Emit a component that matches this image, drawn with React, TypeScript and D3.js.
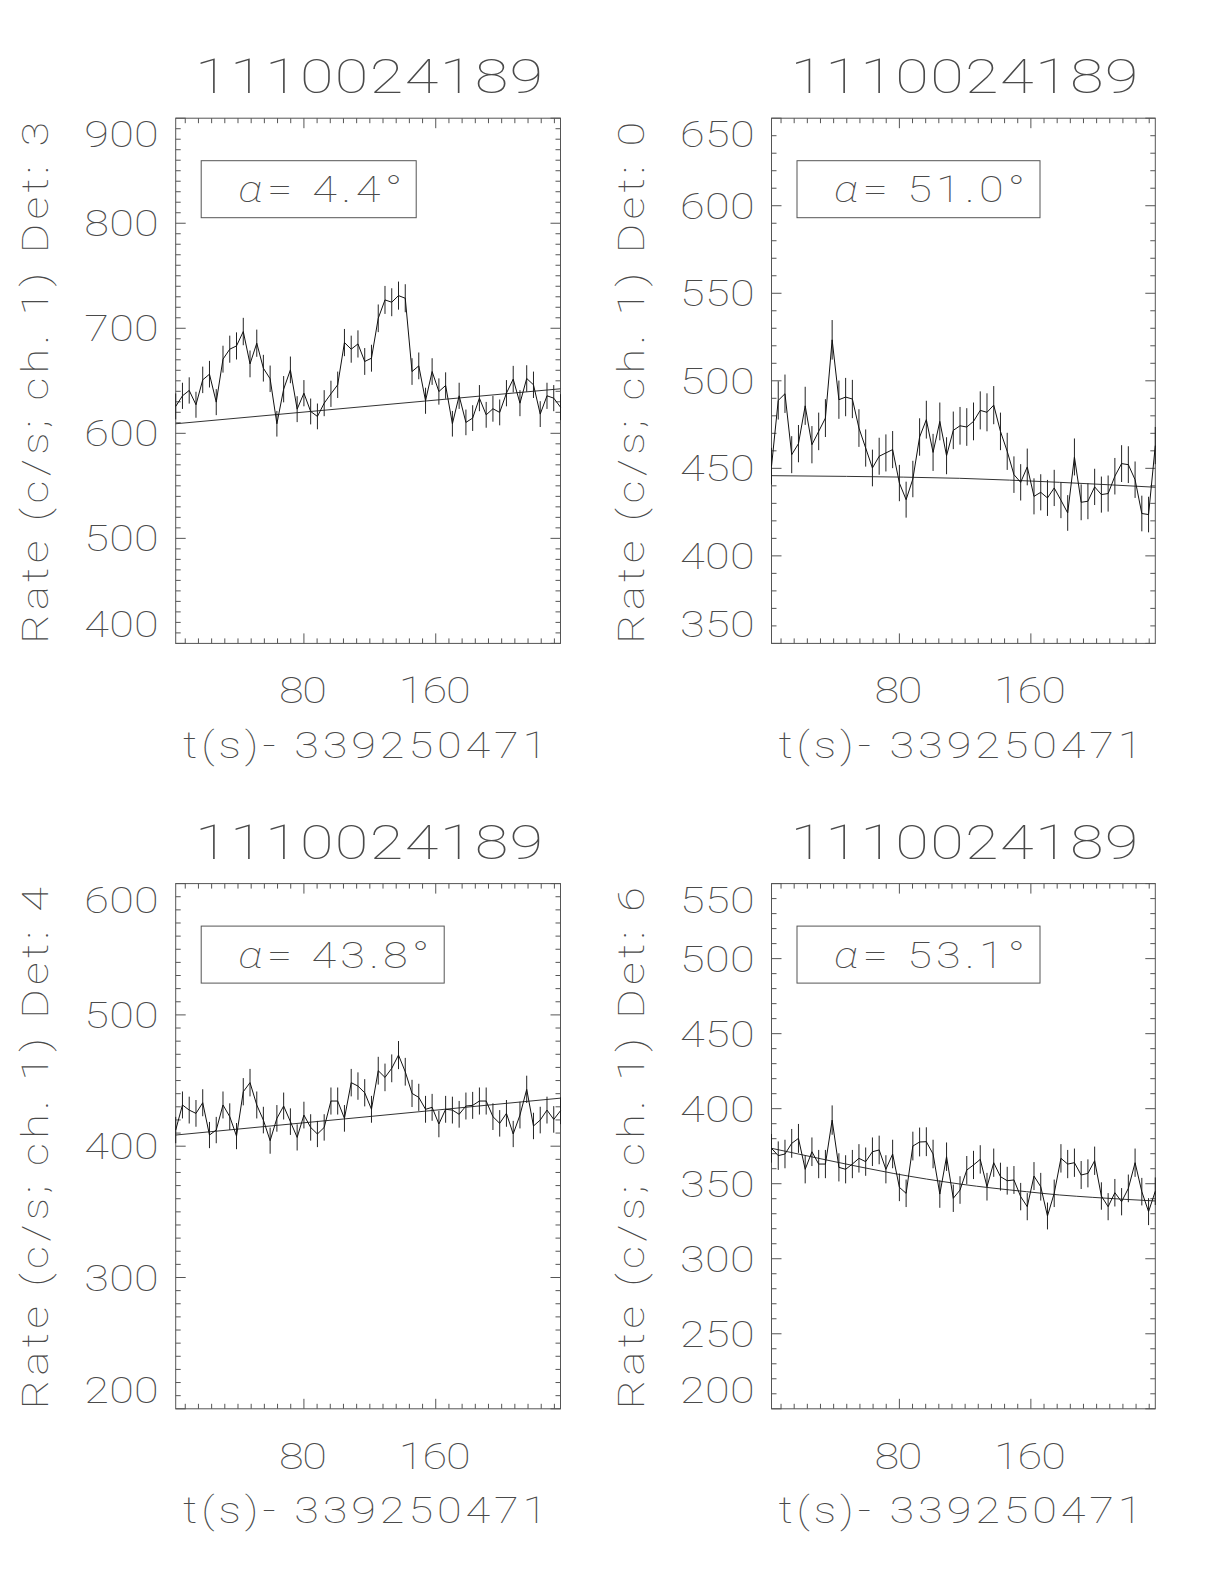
import React from 'react';
import * as d3 from 'd3';

// ---------------- data ----------------
const OBS_ID = '1110024189';
const T_REF = '339250471';
const BIN_WIDTH = 4.096; // s, used for Poisson error bars

const TIMES = [
  2.2, 6.3, 10.4, 14.5, 18.6, 22.7, 26.8, 30.9, 35.0, 39.1,
  43.2, 47.3, 51.4, 55.4, 59.5, 63.6, 67.7, 71.8, 75.9, 80.0,
  84.1, 88.2, 92.3, 96.4, 100.5, 104.6, 108.7, 112.8, 116.9, 121.0,
  125.1, 129.2, 133.3, 137.4, 141.5, 145.6, 149.7, 153.8, 157.8, 161.9,
  166.0, 170.1, 174.2, 178.3, 182.4, 186.5, 190.6, 194.7, 198.8, 202.9,
  207.0, 211.1, 215.2, 219.3, 223.4, 227.5, 231.6, 235.7,
];

const RATE_DET3 = [
  625.6, 635.7, 640.8, 627.2, 650.9, 656.3, 629.7, 670.6, 680.1, 683.2,
  696.9, 666.1, 685.8, 662.0, 651.9, 609.1, 642.0, 660.4, 623.0, 638.2,
  620.8, 616.1, 628.7, 637.6, 646.2, 686.4, 680.1, 685.1, 668.4, 671.5,
  709.5, 727.0, 724.8, 731.1, 728.6, 658.8, 664.2, 631.0, 658.8, 639.8,
  645.5, 609.1, 635.7, 610.4, 614.5, 633.5, 617.6, 623.4, 619.9, 638.2,
  651.6, 628.7, 652.2, 646.2, 618.3, 635.7, 633.5, 624.9,
];
const RATE_DET0 = [
  451.2, 488.8, 492.6, 457.8, 464.1, 485.7, 463.5, 471.1, 478.7, 523.4,
  489.2, 490.7, 489.6, 473.0, 461.6, 450.2, 456.9, 458.8, 460.7, 441.6,
  432.1, 443.9, 467.9, 477.8, 459.1, 476.8, 457.2, 471.7, 474.3, 473.6,
  476.8, 483.1, 482.0, 486.1, 471.1, 459.7, 446.4, 442.0, 450.8, 434.0,
  436.3, 433.1, 438.8, 431.8, 424.5, 456.5, 430.6, 431.2, 439.4, 435.0,
  435.6, 445.5, 452.7, 452.1, 443.5, 424.2, 423.6, 463.0,
];
const RATE_DET4 = [
  412.3, 431.4, 427.5, 425.0, 433.1, 408.5, 412.3, 431.4, 422.5, 407.7,
  441.5, 448.4, 431.4, 419.9, 404.2, 421.2, 430.6, 418.7, 406.7, 423.7,
  414.3, 409.3, 414.3, 434.4, 434.4, 421.2, 448.4, 445.8, 440.7, 428.1,
  457.5, 452.4, 459.3, 469.4, 456.7, 440.2, 437.2, 428.1, 429.6, 416.9,
  428.1, 427.5, 424.3, 430.6, 431.1, 434.4, 434.4, 422.5, 417.4, 425.0,
  409.3, 423.7, 443.3, 415.4, 419.9, 427.5, 420.4, 427.0,
];
const RATE_DET6 = [
  373.6, 368.7, 369.8, 376.9, 380.2, 359.6, 371.3, 363.1, 363.1, 392.4,
  360.9, 359.6, 363.1, 366.9, 364.7, 371.3, 372.5, 359.6, 369.8, 347.6,
  343.6, 375.1, 377.8, 378.0, 369.8, 343.1, 368.0, 340.3, 345.8, 359.1,
  362.5, 366.2, 348.0, 364.0, 354.7, 352.0, 352.5, 341.4, 334.7, 355.1,
  348.0, 328.5, 343.6, 366.9, 363.1, 364.0, 355.8, 356.9, 365.3, 341.8,
  334.7, 344.0, 338.0, 346.9, 364.0, 344.7, 331.4, 345.0,
];

// background fits, sampled
const BG_T_DET3 = [2.2, 118.9, 235.7];
const BG_DET3 = [609.1, 625.8, 642.4];
const BG_T_DET0 = [2.2, 47.9, 116.7, 177.5, 235.7];
const BG_DET0 = [445.8, 445.4, 444.3, 442.0, 439.2];
const BG_T_DET4 = [2.2, 118.9, 235.7];
const BG_DET4 = [408.5, 422.5, 436.6];
const BG_T_DET6 = [2.2, 35.7, 76.2, 116.7, 157.2, 177.5, 197.7, 235.7];
const BG_DET6 = [373.6, 365.8, 356.9, 349.8, 344.7, 342.5, 340.9, 338.5];

const DETECTORS = [3, 0, 4, 6];
const ALPHAS = ['4.4', '51.0', '43.8', '53.1'];

const Y_DOMAIN_DET3 = [400, 900];
const Y_DOMAIN_DET0 = [350, 650];
const Y_DOMAIN_DET4 = [200, 600];
const Y_DOMAIN_DET6 = [200, 550];
const Y_TICKS_DET3 = [400, 500, 600, 700, 800, 900];
const Y_TICKS_DET0 = [350, 400, 450, 500, 550, 600, 650];
const Y_TICKS_DET4 = [200, 300, 400, 500, 600];
const Y_TICKS_DET6 = [200, 250, 300, 350, 400, 450, 500, 550];

const X_DOMAIN = [2.2, 235.7];
const X_TICKS = [80, 160];
const X_MINOR_STEP = 8;
const Y_MINOR_STEP = 10;

// ---------------- layout ----------------
const COL_X = [
  [175.7, 560.5],
  [771.5, 1155.3],
];
const ROW_Y = [
  [118.2, 643.4],
  [883.6, 1408.8],
];

const FONT = 'Roboto, "DejaVu Sans", sans-serif';
const FW = 100;
const TXT = '#4a4a4a';
const SMALL = 36;
const BIG = 49;
const SX = 1.25; // horizontal glyph stretch (Hershey-like wide glyphs)

type STextProps = {
  x: number;
  y: number;
  size: number;
  len: number;
  anchor?: 'start' | 'middle' | 'end';
  rotate?: number;
  children: React.ReactNode;
};

function SText({ x, y, size, len, anchor = 'start', rotate = 0, children }: STextProps) {
  return (
    <text
      transform={`translate(${x},${y}) rotate(${rotate}) scale(${SX},1)`}
      x={0}
      y={0}
      textAnchor={anchor}
      fontSize={size}
      textLength={len / SX}
      lengthAdjust="spacing"
    >
      {children}
    </text>
  );
}

type PanelSpec = {
  det: number;
  alpha: string;
  rates: number[];
  bgT: number[];
  bg: number[];
  yDomain: number[];
  yTicks: number[];
  col: number;
  row: number;
};

const PANELS: PanelSpec[] = [
  { det: DETECTORS[0], alpha: ALPHAS[0], rates: RATE_DET3, bgT: BG_T_DET3, bg: BG_DET3, yDomain: Y_DOMAIN_DET3, yTicks: Y_TICKS_DET3, col: 0, row: 0 },
  { det: DETECTORS[1], alpha: ALPHAS[1], rates: RATE_DET0, bgT: BG_T_DET0, bg: BG_DET0, yDomain: Y_DOMAIN_DET0, yTicks: Y_TICKS_DET0, col: 1, row: 0 },
  { det: DETECTORS[2], alpha: ALPHAS[2], rates: RATE_DET4, bgT: BG_T_DET4, bg: BG_DET4, yDomain: Y_DOMAIN_DET4, yTicks: Y_TICKS_DET4, col: 0, row: 1 },
  { det: DETECTORS[3], alpha: ALPHAS[3], rates: RATE_DET6, bgT: BG_T_DET6, bg: BG_DET6, yDomain: Y_DOMAIN_DET6, yTicks: Y_TICKS_DET6, col: 1, row: 1 },
];

function Panel({ p }: { p: PanelSpec }) {
  const [x0, x1] = COL_X[p.col];
  const [y0, y1] = ROW_Y[p.row];
  const x = d3.scaleLinear().domain(X_DOMAIN).range([x0, x1]);
  const y = d3.scaleLinear().domain(p.yDomain).range([y1, y0]);
  const cx = (x0 + x1) / 2;
  const cy = (y0 + y1) / 2;

  const dataLine = d3
    .line<number>()
    .x((_, i) => x(TIMES[i]))
    .y((d) => y(d));
  const bgLine = d3
    .line<number>()
    .x((_, i) => x(p.bgT[i]))
    .y((d) => y(d))
    .curve(d3.curveMonotoneX);

  const MAJ = 10;
  const MIN = 5;

  const yMinor = d3
    .range(p.yDomain[0], p.yDomain[1] + 0.001, Y_MINOR_STEP)
    .filter((v) => !p.yTicks.includes(v));
  const xMinor = d3
    .range(X_MINOR_STEP, X_DOMAIN[1], X_MINOR_STEP)
    .filter((v) => v > X_DOMAIN[0] && !X_TICKS.includes(v));

  const tickStroke = { stroke: '#555', strokeWidth: 1 };

  const yLabelY = (v: number) => {
    const py = y(v);
    return Math.max(y0 + 16, Math.min(y1 - 19, py));
  };

  const alphaChars = p.alpha.length + 4;
  const alphaLen = 164 + 27 * (alphaChars - 7);
  const boxW = 215 + 28 * (alphaChars - 7);
  const boxX = x0 + 25.5;
  const boxY = y0 + 42.5;

  return (
    <g>
      {/* title */}
      <SText x={cx + 1} y={y0 - 25} anchor="middle" size={BIG} len={348}>
        {OBS_ID}
      </SText>

      {/* frame */}
      <rect x={x0} y={y0} width={x1 - x0} height={y1 - y0} fill="none" stroke="#555" strokeWidth={1} />

      {/* y ticks */}
      {p.yTicks.map((v) => (
        <g key={'ym' + v}>
          <line x1={x0} x2={x0 + MAJ} y1={y(v)} y2={y(v)} {...tickStroke} />
          <line x1={x1} x2={x1 - MAJ} y1={y(v)} y2={y(v)} {...tickStroke} />
        </g>
      ))}
      {yMinor.map((v) => (
        <g key={'yn' + v}>
          <line x1={x0} x2={x0 + MIN} y1={y(v)} y2={y(v)} {...tickStroke} />
          <line x1={x1} x2={x1 - MIN} y1={y(v)} y2={y(v)} {...tickStroke} />
        </g>
      ))}
      {/* x ticks */}
      {X_TICKS.map((v) => (
        <g key={'xm' + v}>
          <line x1={x(v)} x2={x(v)} y1={y1} y2={y1 - MAJ} {...tickStroke} />
          <line x1={x(v)} x2={x(v)} y1={y0} y2={y0 + MAJ} {...tickStroke} />
        </g>
      ))}
      {xMinor.map((v) => (
        <g key={'xn' + v}>
          <line x1={x(v)} x2={x(v)} y1={y1} y2={y1 - MIN} {...tickStroke} />
          <line x1={x(v)} x2={x(v)} y1={y0} y2={y0 + MIN} {...tickStroke} />
        </g>
      ))}

      {/* y tick labels */}
      {p.yTicks.map((v) => (
        <SText
          key={'yl' + v}
          x={x0 - 17}
          y={yLabelY(v) + 13}
          anchor="end"
          size={SMALL}
          len={String(v).length * 24.8}
        >
          {v}
        </SText>
      ))}
      {/* x tick labels */}
      {X_TICKS.map((v) => (
        <SText
          key={'xl' + v}
          x={x(v) - 1}
          y={y1 + 47 + 13}
          anchor="middle"
          size={SMALL}
          len={String(v).length * 24}
        >
          {v}
        </SText>
      ))}

      {/* axis titles */}
      <SText x={cx - 3} y={y1 + 101.5 + 13} anchor="middle" size={SMALL} len={364}>
        {'t(s)- ' + T_REF}
      </SText>
      <SText x={x0 - 140.7 + 13} y={cy + 2} anchor="middle" size={SMALL} len={522} rotate={-90}>
        {`Rate (c/s; ch. 1) Det: ${p.det}`}
      </SText>

      {/* background fit */}
      <path d={bgLine(p.bg) || ''} fill="none" stroke="#333" strokeWidth={1} />

      {/* error bars */}
      {p.rates.map((r, i) => {
        const e = Math.sqrt(r * BIN_WIDTH) / BIN_WIDTH;
        return (
          <line
            key={'e' + i}
            x1={x(TIMES[i])}
            x2={x(TIMES[i])}
            y1={y(r - e)}
            y2={y(r + e)}
            stroke="#222"
            strokeWidth={1}
          />
        );
      })}
      {/* light curve */}
      <path d={dataLine(p.rates) || ''} fill="none" stroke="#111" strokeWidth={1} />

      {/* alpha box */}
      <rect x={boxX} y={boxY} width={boxW} height={57} fill="none" stroke="#555" strokeWidth={1} />
      <SText x={boxX + 37} y={boxY + 28.5 + 13} size={SMALL} len={alphaLen}>
        <tspan fontStyle="italic">α</tspan>
        <tspan>{'= ' + p.alpha + '°'}</tspan>
      </SText>
    </g>
  );
}

export default function App() {
  return (
    <svg
      width={1224}
      height={1584}
      viewBox="0 0 1224 1584"
      style={{ position: 'absolute', left: 0, top: 0, background: '#fff' }}
      fontFamily={FONT}
      fontWeight={FW}
      fill={TXT}
    >
      <rect x={0} y={0} width={1224} height={1584} fill="#fff" />
      {PANELS.map((p, i) => (
        <Panel key={i} p={p} />
      ))}
    </svg>
  );
}
